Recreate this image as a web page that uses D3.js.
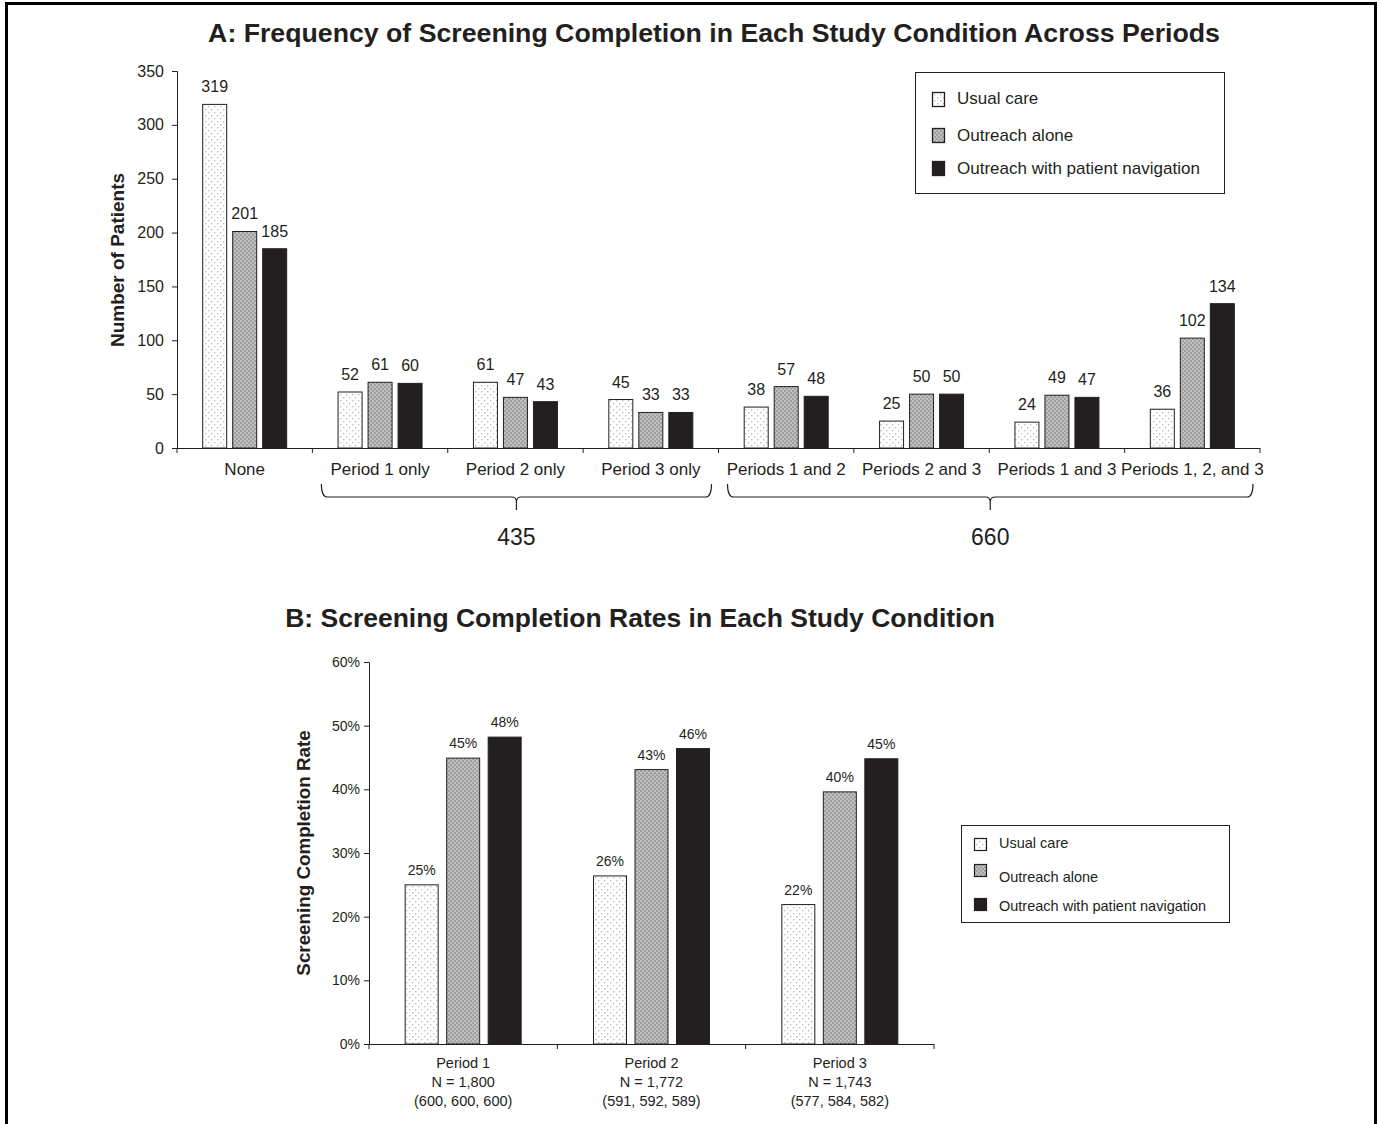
<!DOCTYPE html>
<html>
<head>
<meta charset="utf-8">
<script src="https://cdn.jsdelivr.net/npm/d3@7"></script>
<style>
  html, body { margin: 0; padding: 0; background: #ffffff; }
  svg text { font-family: Arial, "Liberation Sans", Helvetica, sans-serif; fill: #231f20; }
</style>
</head>
<body>
<svg id="chart" width="1381" height="1124"></svg>
<script>
// ---------- Data ----------
const seriesNames = ["Usual care", "Outreach alone", "Outreach with patient navigation"];

// Panel A
const categoriesA = ["None", "Period 1 only", "Period 2 only", "Period 3 only",
  "Periods 1 and 2", "Periods 2 and 3", "Periods 1 and 3", "Periods 1, 2, and 3"];
const usualCareA     = [319, 52, 61, 45, 38, 25, 24, 36];
const outreachAloneA = [201, 61, 47, 33, 57, 50, 49, 102];
const outreachNavA   = [185, 60, 43, 33, 48, 50, 47, 134];
const yTicksA = [0, 50, 100, 150, 200, 250, 300, 350];
const braceGroupsA = [
  { from: "Period 1 only", to: "Period 3 only", label: "435" },
  { from: "Periods 1 and 2", to: "Periods 1, 2, and 3", label: "660" }
];

// Panel B
const categoriesB = ["Period 1", "Period 2", "Period 3"];
const nTotalsB = ["N = 1,800", "N = 1,772", "N = 1,743"];
const nSplitsB = ["(600, 600, 600)", "(591, 592, 589)", "(577, 584, 582)"];
const usualCareB     = [25.0, 26.4, 21.9];
const outreachAloneB = [44.9, 43.1, 39.6];
const outreachNavB   = [48.2, 46.4, 44.8];
const labelsB = [["25%", "45%", "48%"], ["26%", "43%", "46%"], ["22%", "40%", "45%"]];
const yTicksB = [0, 10, 20, 30, 40, 50, 60];

const titleA = "A: Frequency of Screening Completion in Each Study Condition Across Periods";
const titleB = "B: Screening Completion Rates in Each Study Condition";

// ---------- Setup ----------
const ink = "#231f20";
const svg = d3.select("#chart");
const defs = svg.append("defs");

// pattern: usual care (white with light dots)
const p1 = defs.append("pattern").attr("id", "pUsual").attr("patternUnits", "userSpaceOnUse")
  .attr("width", 6).attr("height", 6);
p1.append("rect").attr("width", 6).attr("height", 6).attr("fill", "#ffffff");
p1.append("rect").attr("x", 1).attr("y", 1).attr("width", 1.3).attr("height", 1.3).attr("fill", "#b8b8b8");
p1.append("rect").attr("x", 4).attr("y", 4).attr("width", 1.3).attr("height", 1.3).attr("fill", "#b8b8b8");

// pattern: outreach alone (gray crosshatch texture)
const p2 = defs.append("pattern").attr("id", "pOutreach").attr("patternUnits", "userSpaceOnUse")
  .attr("width", 4).attr("height", 4);
p2.append("rect").attr("width", 4).attr("height", 4).attr("fill", "#a0a0a0");
p2.append("circle").attr("cx", 1).attr("cy", 1).attr("r", 0.9).attr("fill", "#cfcfcf");
p2.append("circle").attr("cx", 3).attr("cy", 3).attr("r", 0.9).attr("fill", "#cfcfcf");

const fills = ["url(#pUsual)", "url(#pOutreach)", ink];

// outer frame (left, top, right)
svg.append("path")
  .attr("d", "M6.5,1124 V3.5 H1375.5 V1124")
  .attr("fill", "none").attr("stroke", "#000").attr("stroke-width", 3);

// ---------- Panel A ----------
const A = { left: 177, right: 1260, top: 71, bottom: 448 };
const xA = d3.scaleBand().domain(categoriesA).range([A.left, A.right]);
const yA = d3.scaleLinear().domain([0, 350]).range([A.bottom, A.top]);
const sA = d3.scaleBand().domain(seriesNames).range([0, 84]).paddingInner(0.2);
const groupOffA = (xA.bandwidth() - 84) / 2;
const seriesA = [usualCareA, outreachAloneA, outreachNavA];

svg.append("text").attr("x", 714).attr("y", 42).attr("text-anchor", "middle")
  .attr("font-size", 26.7).attr("font-weight", "bold").text(titleA);

const gA = svg.append("g");
seriesA.forEach((vals, si) => {
  gA.selectAll(null).data(categoriesA).enter().append("rect")
    .attr("x", d => xA(d) + groupOffA + sA(seriesNames[si]))
    .attr("y", (d, i) => yA(vals[i]))
    .attr("width", sA.bandwidth())
    .attr("height", (d, i) => yA(0) - yA(vals[i]))
    .attr("fill", fills[si]).attr("stroke", ink).attr("stroke-width", 1);
  gA.selectAll(null).data(categoriesA).enter().append("text")
    .attr("x", d => xA(d) + groupOffA + sA(seriesNames[si]) + sA.bandwidth() / 2)
    .attr("y", (d, i) => yA(vals[i]) - 12)
    .attr("text-anchor", "middle").attr("font-size", 16)
    .text((d, i) => vals[i]);
});

// y axis A
const axA = svg.append("g").attr("transform", `translate(${A.left},0)`)
  .call(d3.axisLeft(yA).tickValues(yTicksA).tickSize(5).tickPadding(8).tickFormat(d3.format("d")));
axA.selectAll("text").attr("font-size", 16).style("font-family", "Arial, 'Liberation Sans', sans-serif").attr("fill", ink);
axA.selectAll("line,path").attr("stroke", ink);

// x axis A (line + boundary ticks + labels)
const xAxA = svg.append("g");
xAxA.append("line").attr("x1", A.left).attr("x2", A.right).attr("y1", A.bottom + 0.5).attr("y2", A.bottom + 0.5).attr("stroke", ink);
const boundsA = categoriesA.map(c => xA(c)).concat([xA.range()[1]]);
xAxA.selectAll(null).data(boundsA).enter().append("line")
  .attr("x1", d => d).attr("x2", d => d).attr("y1", A.bottom).attr("y2", A.bottom + 5).attr("stroke", ink);
xAxA.selectAll(null).data(categoriesA).enter().append("text")
  .attr("x", d => xA(d) + xA.bandwidth() / 2).attr("y", 475)
  .attr("text-anchor", "middle").attr("font-size", 17).text(d => d);

svg.append("text").attr("transform", "translate(124,260) rotate(-90)")
  .attr("text-anchor", "middle").attr("font-size", 19).attr("font-weight", "bold")
  .text("Number of Patients");

// braces
braceGroupsA.forEach(g => {
  const x1 = xA(g.from) + 9, x2 = xA(g.to) + xA.bandwidth() - 7;
  const cx = (x1 + x2) / 2, yt = 484, yl = 497, yb = 510;
  const p = d3.path();
  p.moveTo(x1, yt); p.quadraticCurveTo(x1, yl, x1 + 6, yl); p.lineTo(cx - 5, yl);
  p.quadraticCurveTo(cx, yl, cx, yl + 5); p.lineTo(cx, yb);
  p.moveTo(cx, yl + 5); p.quadraticCurveTo(cx, yl, cx + 5, yl); p.lineTo(x2 - 6, yl);
  p.quadraticCurveTo(x2, yl, x2, yt);
  svg.append("path").attr("d", p.toString()).attr("fill", "none").attr("stroke", ink).attr("stroke-width", 1.2);
  svg.append("text").attr("x", cx).attr("y", 545).attr("text-anchor", "middle")
    .attr("font-size", 23).text(g.label);
});

// legend A
const legA = svg.append("g");
legA.append("rect").attr("x", 915.5).attr("y", 72.5).attr("width", 309).attr("height", 121)
  .attr("fill", "#fff").attr("stroke", ink);
const legARows = [{ sy: 92, ty: 104 }, { sy: 128, ty: 141 }, { sy: 161, ty: 174 }];
seriesNames.forEach((n, i) => {
  legA.append("rect").attr("x", 932.5).attr("y", legARows[i].sy + 0.5).attr("width", 12).attr("height", 14)
    .attr("fill", fills[i]).attr("stroke", ink).attr("stroke-width", 1.3);
  legA.append("text").attr("x", 957).attr("y", legARows[i].ty).attr("font-size", 17).text(n);
});

// ---------- Panel B ----------
const B = { left: 369, right: 934, top: 662, bottom: 1044 };
const xB = d3.scaleBand().domain(categoriesB).range([B.left, B.right]);
const yB = d3.scaleLinear().domain([0, 60]).range([B.bottom, B.top]);
const sB = d3.scaleBand().domain(seriesNames).range([0, 116]).paddingInner(0.205);
const groupOffB = (xB.bandwidth() - 116) / 2;
const seriesB = [usualCareB, outreachAloneB, outreachNavB];

svg.append("text").attr("x", 640).attr("y", 627).attr("text-anchor", "middle")
  .attr("font-size", 26.5).attr("font-weight", "bold").text(titleB);

const gB = svg.append("g");
seriesB.forEach((vals, si) => {
  gB.selectAll(null).data(categoriesB).enter().append("rect")
    .attr("x", d => xB(d) + groupOffB + sB(seriesNames[si]))
    .attr("y", (d, i) => yB(vals[i]))
    .attr("width", sB.bandwidth())
    .attr("height", (d, i) => yB(0) - yB(vals[i]))
    .attr("fill", fills[si]).attr("stroke", ink).attr("stroke-width", 1);
  gB.selectAll(null).data(categoriesB).enter().append("text")
    .attr("x", d => xB(d) + groupOffB + sB(seriesNames[si]) + sB.bandwidth() / 2)
    .attr("y", (d, i) => yB(vals[i]) - 10)
    .attr("text-anchor", "middle").attr("font-size", 14)
    .text((d, i) => labelsB[i][si]);
});

const axB = svg.append("g").attr("transform", `translate(${B.left},0)`)
  .call(d3.axisLeft(yB).tickValues(yTicksB).tickSize(5).tickPadding(4).tickFormat(d => d + "%"));
axB.selectAll("text").attr("font-size", 14).style("font-family", "Arial, 'Liberation Sans', sans-serif").attr("fill", ink);
axB.selectAll("line,path").attr("stroke", ink);

const xAxB = svg.append("g");
xAxB.append("line").attr("x1", B.left).attr("x2", B.right).attr("y1", B.bottom + 0.5).attr("y2", B.bottom + 0.5).attr("stroke", ink);
const boundsB = categoriesB.map(c => xB(c)).concat([xB.range()[1]]);
xAxB.selectAll(null).data(boundsB).enter().append("line")
  .attr("x1", d => d).attr("x2", d => d).attr("y1", B.bottom).attr("y2", B.bottom + 5).attr("stroke", ink);
categoriesB.forEach((c, i) => {
  const cx = xB(c) + xB.bandwidth() / 2;
  [c, nTotalsB[i], nSplitsB[i]].forEach((t, j) => {
    xAxB.append("text").attr("x", cx).attr("y", 1068 + j * 19).attr("text-anchor", "middle")
      .attr("font-size", 14.5).text(t);
  });
});

svg.append("text").attr("transform", "translate(310,853) rotate(-90)")
  .attr("text-anchor", "middle").attr("font-size", 18.8).attr("font-weight", "bold")
  .text("Screening Completion Rate");

// legend B
const legB = svg.append("g");
legB.append("rect").attr("x", 961.5).attr("y", 825.5).attr("width", 268).attr("height", 97)
  .attr("fill", "#fff").attr("stroke", ink);
const legBRows = [{ sy: 838, ty: 848 }, { sy: 864, ty: 882 }, { sy: 898, ty: 911 }];
seriesNames.forEach((n, i) => {
  legB.append("rect").attr("x", 974.5).attr("y", legBRows[i].sy + 0.5).attr("width", 12).attr("height", 12)
    .attr("fill", fills[i]).attr("stroke", ink).attr("stroke-width", 1.2);
  legB.append("text").attr("x", 999).attr("y", legBRows[i].ty).attr("font-size", 14.5).text(n);
});
</script>
</body>
</html>
